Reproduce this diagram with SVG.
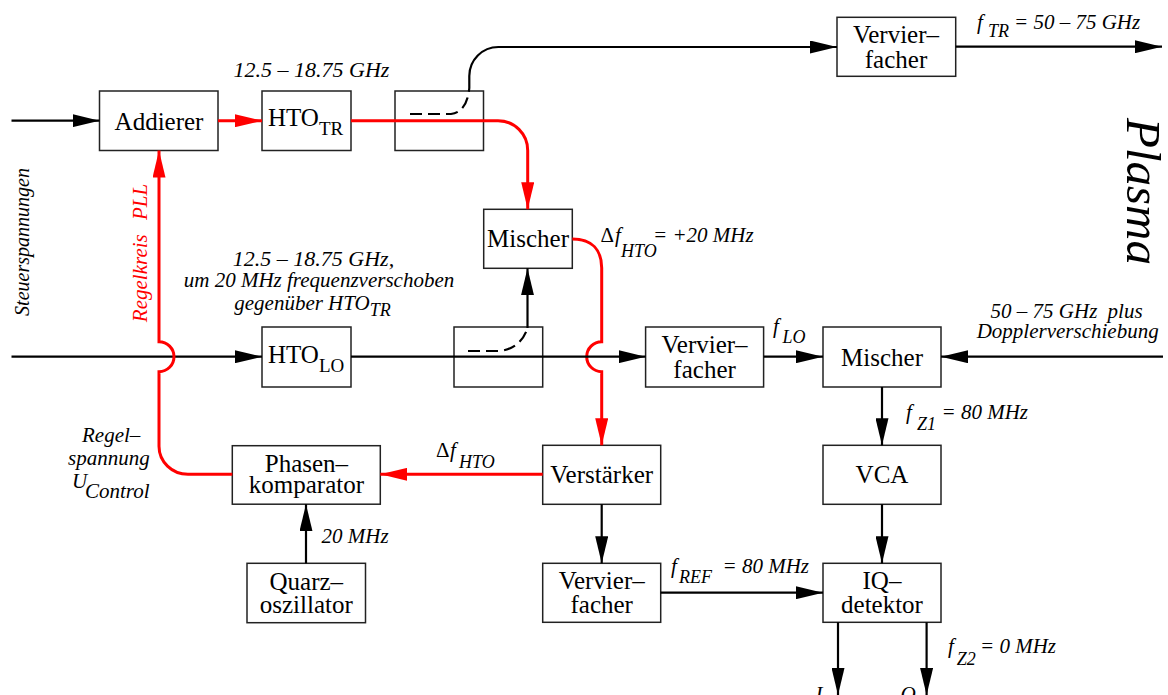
<svg xmlns="http://www.w3.org/2000/svg" width="1168" height="695" viewBox="0 0 1168 695">
<style>
.box{fill:none;stroke:#222;stroke-width:1.5}
.bt{font-family:"Liberation Serif","Times New Roman",serif;font-size:25px;text-anchor:middle;fill:#000}
.sub{font-size:19px}
.lbl{font-family:"Liberation Serif","Times New Roman",serif;font-size:21px;font-style:italic;fill:#000}
.ls{font-size:18px}
.up{font-style:normal}
.w{fill:none;stroke:#000;stroke-width:2.2}
.r{fill:none;stroke:#f00;stroke-width:3}
.d{fill:none;stroke:#000;stroke-width:2.2;stroke-dasharray:12,6}
</style>
<defs>
<marker id="ab" markerUnits="userSpaceOnUse" markerWidth="27" markerHeight="13" viewBox="0 0 27 13" refX="27" refY="6.5" orient="auto"><path d="M0,0 L27,6.5 L0,13 z" fill="#000"/></marker>
<marker id="ar" markerUnits="userSpaceOnUse" markerWidth="27" markerHeight="13" viewBox="0 0 27 13" refX="27" refY="6.5" orient="auto"><path d="M0,0 L27,6.5 L0,13 z" fill="#f00"/></marker>
</defs>
<rect width="1168" height="695" fill="#fff"/>

<g id="addierer"><rect class="box" x="99.5" y="91" width="118.5" height="59.5"/><text class="bt" x="159" y="130">Addierer</text></g>
<g id="hto-tr"><rect class="box" x="262" y="91" width="89" height="59.5"/><text class="bt" x="268" y="126" style="text-anchor:start">HTO<tspan class="sub" dy="9">TR</tspan></text></g>
<g id="koppler-tr"><rect class="box" x="395" y="91" width="88.5" height="59.5"/></g>
<g id="vervierfacher-tr"><rect class="box" x="837" y="17.3" width="118.7" height="59"/><text class="bt" x="896" y="43">Vervier–</text><text class="bt" x="896" y="68">facher</text></g>
<g id="mischer-hto"><rect class="box" x="483.7" y="209.3" width="88.6" height="59"/><text class="bt" x="528" y="247">Mischer</text></g>
<g id="hto-lo"><rect class="box" x="262" y="327" width="89" height="60"/><text class="bt" x="268" y="363" style="text-anchor:start">HTO<tspan class="sub" dy="8.5">LO</tspan></text></g>
<g id="koppler-lo"><rect class="box" x="454" y="327" width="88.7" height="60"/></g>
<g id="vervierfacher-lo"><rect class="box" x="645.6" y="327" width="118" height="60"/><text class="bt" x="704.6" y="353">Vervier–</text><text class="bt" x="704.6" y="377.5">facher</text></g>
<g id="mischer-rx"><rect class="box" x="823" y="327" width="118" height="60"/><text class="bt" x="882" y="366">Mischer</text></g>
<g id="phasenkomparator"><rect class="box" x="232.3" y="445.7" width="148" height="58.5"/><text class="bt" x="306.4" y="471.7">Phasen–</text><text class="bt" x="306.4" y="492.7">komparator</text></g>
<g id="verstaerker"><rect class="box" x="542.7" y="445.3" width="118" height="59"/><text class="bt" x="601.7" y="483.3">Verstärker</text></g>
<g id="vca"><rect class="box" x="823" y="445.3" width="118" height="59"/><text class="bt" x="882" y="483.3">VCA</text></g>
<g id="quarzoszillator"><rect class="box" x="247" y="563.3" width="118.5" height="59.4"/><text class="bt" x="306.3" y="590">Quarz–</text><text class="bt" x="306.3" y="613.3">oszillator</text></g>
<g id="vervierfacher-ref"><rect class="box" x="542.7" y="563.3" width="118" height="59"/><text class="bt" x="601.7" y="589.3">Vervier–</text><text class="bt" x="601.7" y="613.3">facher</text></g>
<g id="iq-detektor"><rect class="box" x="823" y="563.3" width="118" height="59"/><text class="bt" x="882" y="588.5">IQ–</text><text class="bt" x="882" y="613">detektor</text></g>

<g id="connectors">
<path class="w" d="M11.5,120.7 H99.5" marker-end="url(#ab)"/>
<path class="r" d="M218,120.7 H262" marker-end="url(#ar)"/>
<path class="r" d="M351,120.7 H498 A29.7,29.7 0 0 1 527.7,150.4 V209.3" marker-end="url(#ar)"/>
<path class="d" d="M410,114 H451 Q467,112 469.3,88"/>
<path class="w" d="M469.3,88 V76 A29,29 0 0 1 498.3,47 H837" marker-end="url(#ab)"/>
<path class="w" d="M955.7,46.7 H1162" marker-end="url(#ab)"/>
<path class="r" d="M572.3,239 C592,239 601.7,250 601.7,268 V341.7 A15,15 0 0 0 601.7,371.7 V445.3" marker-end="url(#ar)"/>
<path class="w" d="M11.5,356.7 H262" marker-end="url(#ab)"/>
<path class="w" d="M351,356.7 H645.6" marker-end="url(#ab)"/>
<path class="d" d="M468,351 H500 Q521,348 527.5,328"/>
<path class="w" d="M527.5,328 V268.3" marker-end="url(#ab)"/>
<path class="w" d="M763.7,356.7 H823" marker-end="url(#ab)"/>
<path class="w" d="M1163,356.7 H941" marker-end="url(#ab)"/>
<path class="w" d="M882,387 V445.3" marker-end="url(#ab)"/>
<path class="w" d="M882,504.3 V563.3" marker-end="url(#ab)"/>
<path class="w" d="M601.7,504.3 V563.3" marker-end="url(#ab)"/>
<path class="r" d="M542.7,474.3 H380.3" marker-end="url(#ar)"/>
<path class="r" d="M232.3,474.3 H188 A29,28 0 0 1 159,446.3 V371.7 A15,15 0 0 0 159,341.7 V150.5" marker-end="url(#ar)"/>
<path class="w" d="M306,563.3 V504.2" marker-end="url(#ab)"/>
<path class="w" d="M660.5,592.7 H823" marker-end="url(#ab)"/>
<path class="w" d="M838,622.3 V695" marker-end="url(#ab)"/>
<path class="w" d="M926.6,622.3 V695" marker-end="url(#ab)"/>
</g>

<g id="labels">
<text class="lbl" x="311.5" y="77" text-anchor="middle" style="font-size:22px">12.5 – 18.75 GHz</text>
<text class="lbl" x="313.5" y="266" text-anchor="middle" style="font-size:22px">12.5 – 18.75 GHz,</text>
<text class="lbl" x="319" y="287" text-anchor="middle">um 20 MHz frequenzverschoben</text>
<text class="lbl" x="312.5" y="310" text-anchor="middle">gegenüber HTO<tspan class="ls" dy="6">TR</tspan></text>
<text class="lbl" x="977" y="29.3">f<tspan class="ls" x="988" dy="8">TR</tspan><tspan x="1014" dy="-8">= 50 – 75 GHz</tspan></text>
<text class="lbl" transform="translate(1127,118) rotate(90)" style="font-size:49px">Plasma</text>
<text class="lbl up" x="600.6" y="241.7">Δ</text><text class="lbl" x="615" y="241.7">f</text><text class="lbl ls" x="621" y="256.7">HTO</text><text class="lbl" x="653" y="241.7">= +20 MHz</text>
<text class="lbl" x="773" y="333">f<tspan class="ls" x="782.5" dy="10">LO</tspan></text>
<text class="lbl" x="990.6" y="318">50 – 75 GHz <tspan dx="5">plus</tspan></text>
<text class="lbl" x="976.7" y="338">Dopplerverschiebung</text>
<text class="lbl" x="906" y="419">f<tspan class="ls" x="917" dy="11">Z1</tspan><tspan x="941.5" dy="-11">= 80 MHz</tspan></text>
<text class="lbl up" x="436" y="456.7">Δ</text><text class="lbl" x="450" y="456.7">f</text><text class="lbl ls" x="459" y="468.3">HTO</text>
<text class="lbl" x="82" y="441.7">Regel–</text>
<text class="lbl" x="68" y="465">spannung</text>
<text class="lbl" x="72" y="488">U</text><text class="lbl" x="85" y="498">Control</text>
<text class="lbl" x="321.5" y="542.7">20 MHz</text>
<text class="lbl" x="671" y="572.7">f<tspan class="ls" x="679" dy="10.3">REF</tspan><tspan x="722.5" dy="-10.3">= 80 MHz</tspan></text>
<text class="lbl" x="948" y="653">f<tspan class="ls" x="956.7" dy="12">Z2</tspan><tspan x="980" dy="-12">= 0 MHz</tspan></text>
<text class="lbl" x="815.5" y="701">I</text>
<text class="lbl" x="900.5" y="701">Q</text>
<text class="lbl" transform="translate(29,242) rotate(-90)" text-anchor="middle" style="font-size:20px">Steuerspannungen</text>
<text class="lbl" transform="translate(146.7,253) rotate(-90)" text-anchor="middle" style="fill:#f00">Regelkreis <tspan dx="9">PLL</tspan></text>
</g>
</svg>
